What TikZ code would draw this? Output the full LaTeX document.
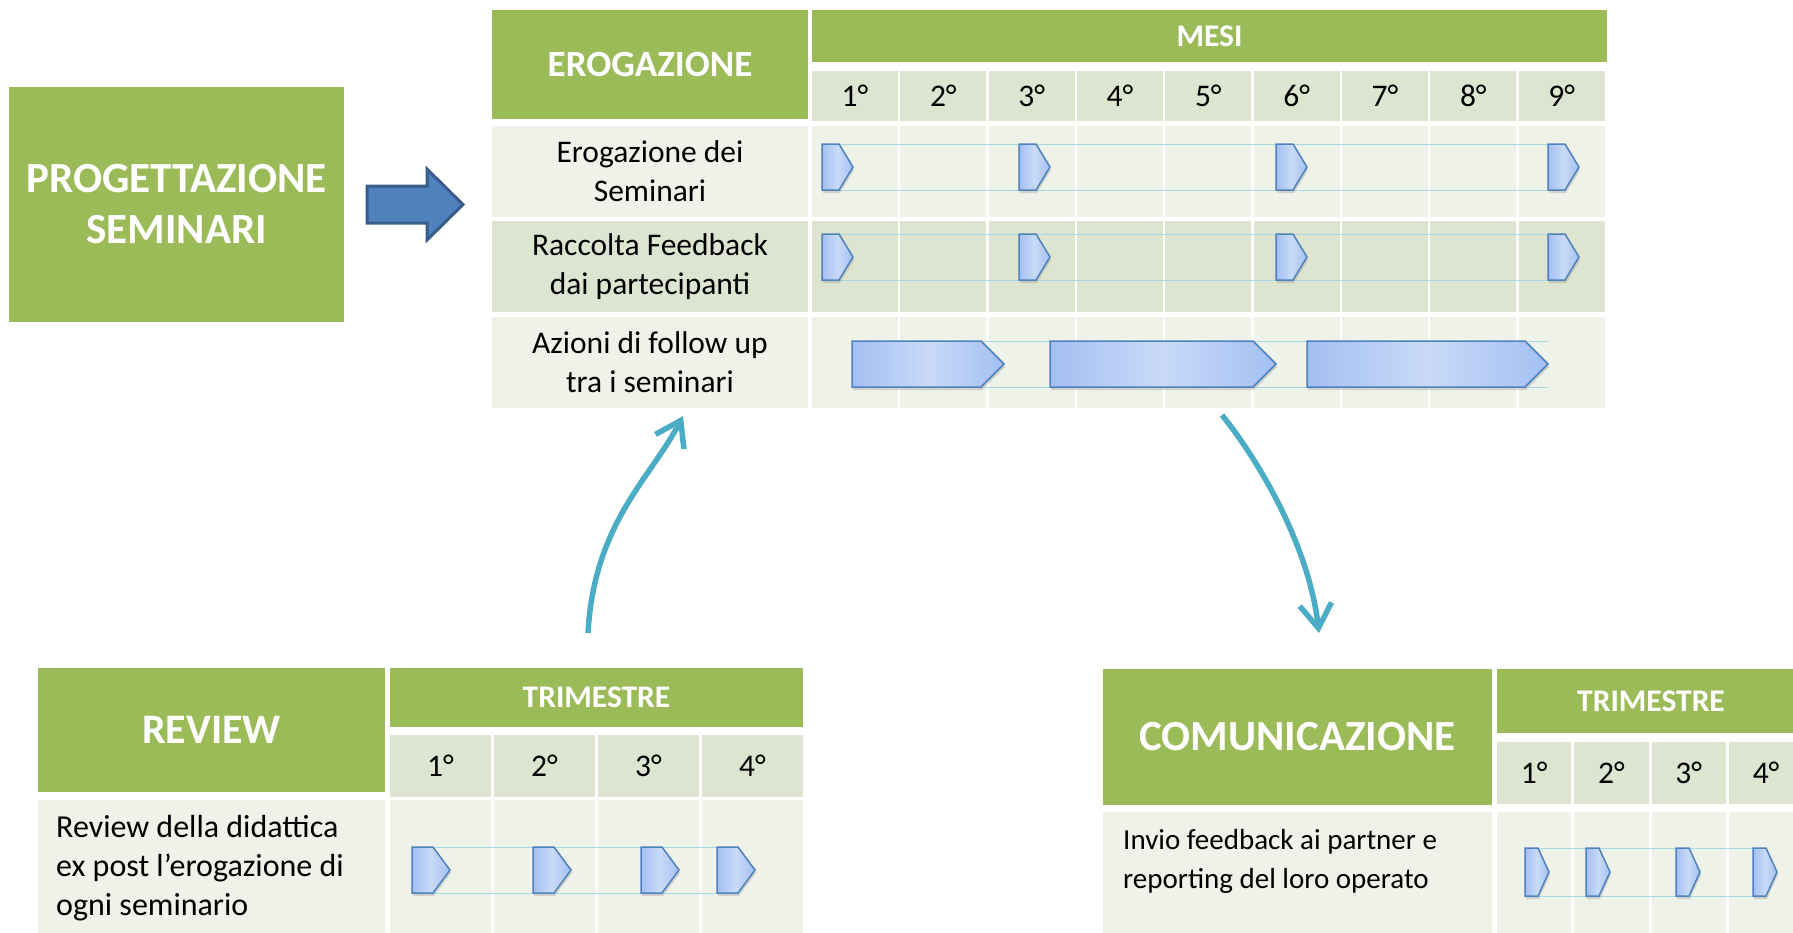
\documentclass[tikz,border=0pt]{standalone}
\usepackage{fontspec}
\setmainfont{Carlito}
\usetikzlibrary{arrows.meta,shadows}
\definecolor{hgreen}{HTML}{9BBB59}
\definecolor{cdark}{HTML}{DDE5D0}
\definecolor{clight}{HTML}{EEF2E8}
\definecolor{chevA}{HTML}{A3BFF2}
\definecolor{chevB}{HTML}{C9DAF8}
\definecolor{chevE}{HTML}{4F81BD}
\definecolor{tline}{HTML}{A8D8E6}
\definecolor{arrteal}{HTML}{4BACC6}
\definecolor{bigA}{HTML}{4F81BD}
\definecolor{bigE}{HTML}{385D8A}
\tikzset{
  cell/.style={anchor=north west, inner sep=0pt, outer sep=0pt, align=center, font=\fontsize{31.5}{39}\selectfont},
  hdr/.style={cell, fill=hgreen, text=white, font=\bfseries\fontsize{37}{44}\selectfont},
  subhdr/.style={hdr, font=\bfseries\fontsize{31.5}{36}\selectfont},
  chev/.style={draw=chevE, line width=1.5pt, left color=chevA, right color=chevA, middle color=chevB,
    drop shadow={opacity=0.28, shadow xshift=1pt, shadow yshift=-3pt}},
  tl/.style={draw=tline, line width=1pt},
  carrow/.style={draw=arrteal, line width=5.5pt, -{Straight Barb[length=24pt,width=32pt]}},
  bodytext/.style={inner sep=0pt, align=left, font=\fontsize{30}{39}\selectfont}
}
\newcommand\mychev[5]{\path[chev] (#1,#2) -- ++(#3,0) -- ++(#4,{#5/2}) -- ++({-#4},{#5/2}) -- ++({-#3},0) -- cycle;}
\begin{document}
\begin{tikzpicture}[x=1pt,y=-1pt]
\useasboundingbox (0,0) rectangle (1793,932);
\clip (0,0) rectangle (1793,932);

% Progettazione
\node[hdr, font=\bfseries\fontsize{43}{51}\selectfont, minimum width=335pt, minimum height=235pt] (prog) at (9,87) {PROGETTAZIONE\\SEMINARI};
\path[fill=bigA, draw=bigE, line width=3pt] (367,186) -- (427,186) -- (427,169) -- (463,204.5) -- (427,240) -- (427,223) -- (367,223) -- cycle;

% Top table
\node[hdr, minimum width=316pt, minimum height=109pt] (ero) at (492,10) {EROGAZIONE};
\node[subhdr, minimum width=795pt, minimum height=52pt] (mesi) at (812,10) {MESI};
\foreach \i in {1,...,9}
  \node[cell, fill=cdark, minimum width=86pt, minimum height=50pt] (m\i) at ({812+(\i-1)*88.33},71) {\i{}°};
\foreach \y/\c/\r in {126/clight/1, 221/cdark/2, 317/clight/3}
  \foreach \i in {1,...,9}
    \node[cell, fill=\c, minimum width=86pt, minimum height=91pt] (r\r-\i) at ({812+(\i-1)*88.33},\y) {};
\node[cell, fill=clight, minimum width=316pt, minimum height=91pt] (l1) at (492,126) {Erogazione dei\\Seminari};
\node[cell, fill=cdark, minimum width=316pt, minimum height=91pt] (l2) at (492,221) {Raccolta Feedback\\dai partecipanti};
\node[cell, fill=clight, minimum width=316pt, minimum height=91pt] (l3) at (492,317) {Azioni di follow up\\tra i seminari};

% top markers
\draw[tl] (822,144) -- (1565,144) (822,190) -- (1565,190);
\draw[tl] (822,234) -- (1565,234) (822,280) -- (1565,280);
\draw[tl] (852,341) -- (1548,341) (852,387) -- (1548,387);
\foreach \x in {822,1019,1276,1548} {\mychev{\x}{144}{17}{14}{46}\mychev{\x}{234}{17}{14}{46}}
\mychev{852}{341}{129}{23}{46}
\mychev{1050}{341}{203}{23}{46}
\mychev{1307}{341}{218}{23}{46}

% Review table
\node[hdr, font=\bfseries\fontsize{42}{48}\selectfont, minimum width=347pt, minimum height=124pt] (rev) at (38,668) {REVIEW};
\node[subhdr, minimum width=413pt, minimum height=59pt] (rtri) at (390,668) {TRIMESTRE};
\foreach \i in {1,...,4} {
  \node[cell, fill=cdark, minimum width=101pt, minimum height=62pt] (q\i) at ({390+(\i-1)*104},735) {\i{}°};
  \node[cell, fill=clight, minimum width=101pt, minimum height=140pt] (qb\i) at ({390+(\i-1)*104},800) {};
}
\node[cell, fill=clight, minimum width=347pt, minimum height=140pt] (rl) at (38,800) {};
\node[bodytext, font=\fontsize{32}{39}\selectfont, anchor=west] (rt) at (56,868) {Review della didattica\\ex post l’erogazione di\\ogni seminario};
\draw[tl] (412,847) -- (738,847) (412,893) -- (738,893);
\foreach \x in {412,533,641,717} {\mychev{\x}{847}{21}{17}{46}}

% Comunicazione table
\node[hdr, font=\bfseries\fontsize{43}{50}\selectfont, minimum width=389pt, minimum height=136pt] (com) at (1103,669) {COMUNICAZIONE};
\node[subhdr, minimum width=308pt, minimum height=64pt] (ctri) at (1497,669) {TRIMESTRE};
\foreach \i in {1,...,4} {
  \node[cell, fill=cdark, minimum width=74.3pt, minimum height=62pt] (p\i) at ({1497+(\i-1)*77.3},742) {\i{}°};
  \node[cell, fill=clight, minimum width=74.3pt, minimum height=130pt] (pb\i) at ({1497+(\i-1)*77.3},812) {};
}
\node[cell, fill=clight, minimum width=389pt, minimum height=130pt] (cl) at (1103,812) {};
\node[bodytext, font=\fontsize{29}{39}\selectfont, anchor=west] (ct) at (1123,861) {Invio feedback ai partner e\\reporting del loro operato};
\draw[tl] (1525,848) -- (1766,848) (1525,896) -- (1766,896);
\foreach \x in {1525,1586,1676,1753} {\mychev{\x}{848}{13}{11}{48}}

% curved arrows
\coordinate (a1s) at (588,633);
\coordinate (a1e) at (683,416);
\coordinate (a2s) at (1222,415);
\coordinate (a2e) at (1319,633);
\draw[carrow] (a1s) .. controls +(6,-110) and +(-32,62) .. (a1e);
\draw[carrow] (a2s) .. controls +(40,50) and +(-10,-85) .. (a2e);
\end{tikzpicture}
\end{document}
